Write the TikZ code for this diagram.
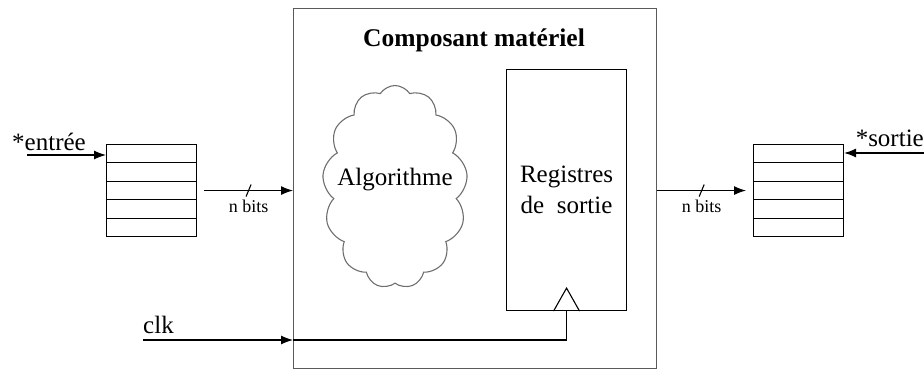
\documentclass[tikz,border=0pt]{standalone}
\usepackage{fontspec}
\setmainfont{Liberation Serif}
\definecolor{framegray}{RGB}{90,90,90}
\definecolor{cloudgray}{RGB}{110,110,110}
\usetikzlibrary{arrows.meta,positioning,shapes.symbols,calc}

\begin{document}
\begin{tikzpicture}[
      x=1pt, y=-1pt,
      arr/.style={-{Latex[length=12pt,width=9pt]}, line width=1.1pt},
      wire/.style={line width=1.1pt},
      fifo/.style={draw, line width=1.1pt, minimum width=90pt, minimum height=92pt,
                   inner sep=0pt},
      lbl/.style={font=\fontsize{25}{28}\selectfont, inner sep=0pt},
      buslbl/.style={font=\fontsize{18}{20}\selectfont, inner sep=0pt}
    ]
    \useasboundingbox (0,0) rectangle (924,370);
    \node[draw=framegray, line width=1.3pt, minimum width=363pt, minimum height=360pt,
          anchor=north west, inner sep=0pt] (hw) at (293,8) {};
    \node[lbl, font=\fontsize{25.5}{28}\selectfont\bfseries] (title) at (474,40) {Composant matériel};
    \node[cloud, cloud puffs=13, cloud puff arc=115, draw=cloudgray, line width=1.1pt,
          minimum width=145pt, minimum height=203pt, inner sep=0pt] (algo) at (395,187) {};
    \node[lbl] (algotxt) at (395,180) {Algorithme};
    \node[draw, line width=1.1pt, minimum width=120pt, minimum height=241pt,
          anchor=north west, inner sep=0pt, align=center,
          font=\fontsize{25}{31}\selectfont] (reg) at (506,69) {Registres\\de\ \ sortie};
    \draw[wire] ([xshift=-13pt]reg.south) -- ([yshift=23pt]reg.south) -- ([xshift=13pt]reg.south);
    \node[fifo, anchor=north west] (fifoin) at (106,144) {};
    \node[fifo, anchor=north west] (fifoout) at (753,144) {};
    \foreach \f in {fifoin,fifoout}
      \foreach \k in {1,...,4}
        \draw[wire] ($(\f.north west)!\k/5!(\f.south west)$) -- ($(\f.north east)!\k/5!(\f.south east)$);
    \coordinate (ein) at (27,155);
    \node[lbl, anchor=base west] (etxt) at (12,150) {*entrée};
    \draw[arr] (ein) -- (ein -| fifoin.west);
    \coordinate (sin) at (924,153);
    \node[lbl, anchor=base east] (stxt) at (924,146) {*sortie};
    \draw[arr] (sin) -- (sin -| fifoout.east);
    \draw[arr] ([xshift=7pt]fifoin.east) -- (fifoin.east -| hw.west)
      coordinate[midway] (m1) node[buslbl, midway, below=9pt] (nb1) {n bits};
    \draw[wire] ([shift={(-2.5,6)}]m1) -- ([shift={(2.5,-6)}]m1);
    \draw[arr] (fifoin.east -| hw.east) -- ([xshift=-7pt]fifoout.west)
      coordinate[midway] (m2) node[buslbl, midway, below=9pt] (nb2) {n bits};
    \draw[wire] ([shift={(-2.5,6)}]m2) -- ([shift={(2.5,-6)}]m2);
    \coordinate (clk) at (143,340);
    \node[lbl, anchor=base west] (clktxt) at (143,333) {clk};
    \draw[arr] (clk) -- (clk -| hw.west);
    \draw[wire] (clk -| hw.west) -- (clk -| reg.south) -- (reg.south);
  \end{tikzpicture}
\end{document}
